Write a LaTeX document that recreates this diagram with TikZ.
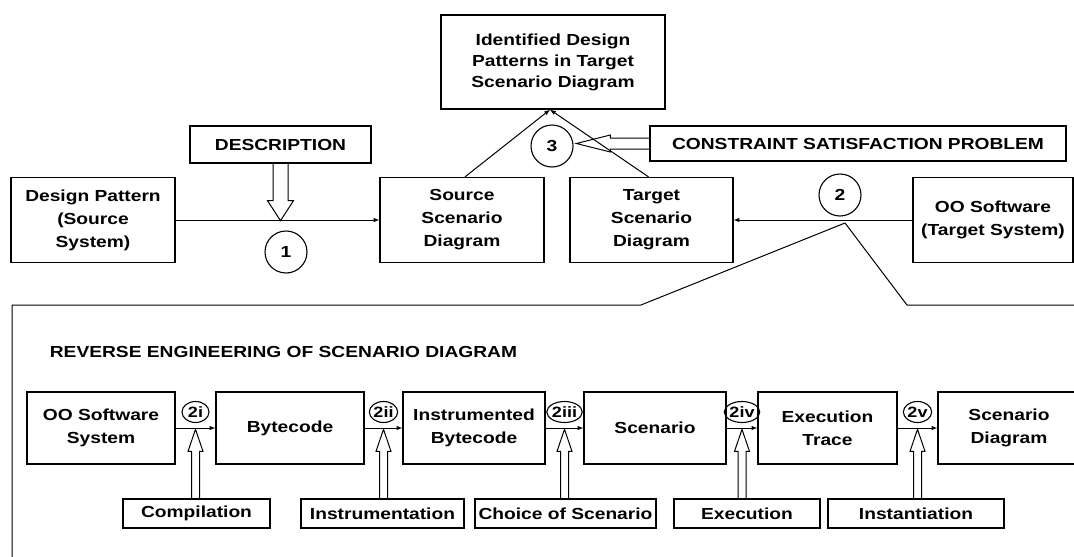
\documentclass[tikz,border=0pt]{standalone}
\usepackage{fontspec}
\setmainfont{Liberation Sans}[FakeStretch=1.2]
\usepackage{tikz}
\usetikzlibrary{arrows,shapes,positioning,calc}

\begin{document}
\begin{tikzpicture}[x=1pt, y=1pt, line width=1pt,
  font=\bfseries\fontsize{16}{23}\selectfont,
  box/.style={draw, line width=1.3pt, align=center, inner sep=0pt},
  tag/.style={draw, line width=1.3pt, minimum height=29pt, inner sep=0pt},
  num/.style={draw, circle, line width=1.1pt, minimum size=42pt, inner sep=0pt},
  sub/.style={draw, ellipse, line width=1.1pt, minimum width=27pt, minimum height=21pt,
              inner sep=0pt, font=\bfseries\fontsize{15}{15}\selectfont}]
  \useasboundingbox (0,0) rectangle (1074,-557);
  \clip (0,0) rectangle (1074,-557);

  % upper level: source side, target side, matching
  \node[box, minimum width=224pt, minimum height=94pt,
        font=\bfseries\fontsize{16}{21}\selectfont] (ident) at (553,-62)
       {Identified Design\\Patterns in Target\\Scenario Diagram};
  \node[box, minimum width=181pt, minimum height=37pt] (desc) at (280.5,-144.5) {DESCRIPTION};
  \node[box, minimum width=416pt, minimum height=35pt] (csp) at (858,-143.5) {CONSTRAINT SATISFACTION PROBLEM};
  \node[box, minimum width=164pt, minimum height=85pt] (design) at (93,-220) {Design Pattern\\(Source\\System)};
  \node[box, minimum width=164pt, minimum height=85pt] (source) at (462,-220) {Source\\Scenario\\Diagram};
  \node[box, minimum width=163pt, minimum height=85pt] (target) at (651.5,-220) {Target\\Scenario\\Diagram};
  \node[box, minimum width=160pt, minimum height=85pt] (oosw) at (993,-220) {OO Software\\(Target System)};

  \node[num] (c1) at (286,-252) {1};
  \node[num] (c2) at (840,-195) {2};
  \node[num] (c3) at (552,-146) {3};

  \draw[-latex] (design.east) -- (source.west);
  \draw[-latex] (oosw.west) -- (target.east);
  \draw[-latex] ($(source.north)+(3,0)$) -- ($(ident.south)+(-3,0)$);
  \draw[-latex] ($(target.north)+(-3,0)$) -- ($(ident.south)+(-3,0)$);

  % hollow arrows
  \draw (desc.south) ++(-7.5,0) -- ++(0,-37) -- ++(-5.5,0) -- ++(13,-20)
        -- ++(13,20) -- ++(-5.5,0) -- ++(0,37);
  \draw (csp.west) ++(0,5.5) -- ++(-39,0) -- ++(0,3) -- ++(-34,-8.5)
        -- ++(34,-8.5) -- ++(0,3) -- ++(39,0);

  % zoom onto step 2
  \coordinate (zoom) at (845,-223);
  \draw (zoom) -- (641,-305) -- (12,-305) -- (12,-570);
  \draw (zoom) -- (907,-305) -- (1090,-305);

  \node[anchor=base west] (title) at (46,-357) {REVERSE ENGINEERING OF SCENARIO DIAGRAM};

  % reverse engineering chain
  \node[box, minimum width=148pt, minimum height=72pt] (b1) at (101,-428) {OO Software\\System};
  \node[box, minimum width=148pt, minimum height=72pt] (b2) at (290,-428) {Bytecode};
  \node[box, minimum width=142pt, minimum height=72pt] (b3) at (474,-428) {Instrumented\\Bytecode};
  \node[box, minimum width=142pt, minimum height=72pt] (b4) at (655,-428) {Scenario};
  \node[box, minimum width=139pt, minimum height=72pt] (b5) at (827.5,-428) {Execution\\Trace};
  \node[box, minimum width=142pt, minimum height=72pt] (b6) at (1009,-428) {Scenario\\Diagram};

  \foreach \a/\b in {b1/b2,b2/b3,b3/b4,b4/b5,b5/b6}
    \draw[-latex] (\a.east) -- (\b.west);

  \node[sub] (e1) at ($(b1.east)!0.5!(b2.west)+(0,16)$) {2i};
  \node[sub] (e2) at ($(b2.east)!0.5!(b3.west)+(0,16)$) {2ii};
  \node[sub] (e3) at ($(b3.east)!0.5!(b4.west)+(0,16)$) {2iii};
  \node[sub] (e4) at ($(b4.east)!0.5!(b5.west)+(0,16)$) {2iv};
  \node[sub] (e5) at ($(b5.east)!0.5!(b6.west)+(0,16)$) {2v};

  \node[tag, minimum width=147pt] (l1) at (196.5,-513.5) {Compilation};
  \node[tag, minimum width=163pt] (l2) at (382.5,-513.5) {Instrumentation};
  \node[tag, minimum width=181pt] (l3) at (565.5,-513.5) {Choice of Scenario};
  \node[tag, minimum width=146pt] (l4) at (747,-513.5) {Execution};
  \node[tag, minimum width=176pt] (l5) at (916,-513.5) {Instantiation};

  \foreach \e/\l in {e1/l1,e2/l2,e3/l3,e4/l4,e5/l5}
    \draw (\l.north -| \e.center) ++(-4,0) -- ++(0,47) -- ++(-3.5,0) -- ++(7.5,22)
          -- ++(7.5,-22) -- ++(-3.5,0) -- ++(0,-47);
\end{tikzpicture}
\end{document}
